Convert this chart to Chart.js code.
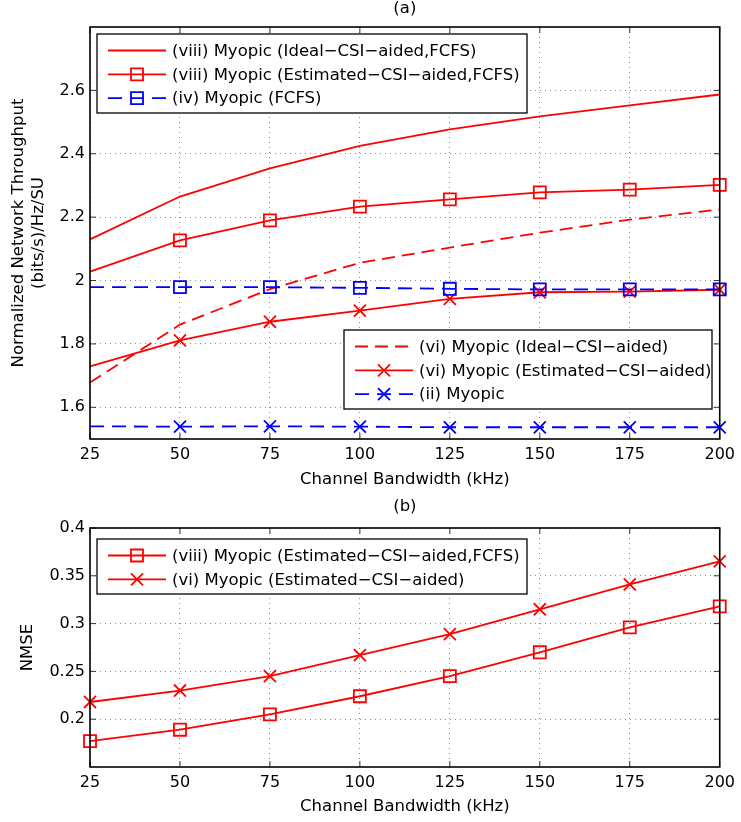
<!DOCTYPE html>
<html>
<head>
<meta charset="utf-8">
<script src="https://cdn.jsdelivr.net/npm/chart.js@4.4.1/dist/chart.umd.min.js"></script>
<style>
body { margin: 0; background: #fff; }
canvas { display: block; }
</style>
</head>
<body>
<canvas id="chartA" width="741" height="495"></canvas>
<canvas id="chartB" width="741" height="327"></canvas>
<script>
// shared x axis
const bandwidth = [25, 50, 75, 100, 125, 150, 175, 200];
const xTicks = [25, 50, 75, 100, 125, 150, 175, 200];
const xTitle = "Channel Bandwidth (kHz)";

// (a) normalized network throughput
const idealFcfs = [2.130, 2.265, 2.354, 2.425, 2.477, 2.518, 2.553, 2.587];
const estFcfs   = [2.028, 2.127, 2.190, 2.233, 2.256, 2.278, 2.287, 2.302];
const fcfs      = [1.979, 1.979, 1.979, 1.977, 1.974, 1.972, 1.972, 1.972];
const idealVi   = [1.678, 1.861, 1.973, 2.056, 2.104, 2.151, 2.192, 2.224];
const estVi     = [1.729, 1.811, 1.870, 1.905, 1.942, 1.963, 1.965, 1.971];
const myopic    = [1.540, 1.539, 1.540, 1.539, 1.537, 1.537, 1.537, 1.537];
const yTicksA = [1.6, 1.8, 2, 2.2, 2.4, 2.6];
const yTitleA = ["Normalized Network Throughput", "(bits/s)/Hz/SU"];

// (b) NMSE
const nmseViii = [0.177, 0.189, 0.205, 0.224, 0.245, 0.270, 0.296, 0.318];
const nmseVi   = [0.218, 0.230, 0.245, 0.267, 0.289, 0.315, 0.341, 0.365];
const yTicksB = [0.2, 0.25, 0.3, 0.35, 0.4];

const labels = {
  idealFcfs: "(viii) Myopic (Ideal\u2212CSI\u2212aided,FCFS)",
  estFcfs: "(viii) Myopic (Estimated\u2212CSI\u2212aided,FCFS)",
  fcfs: "(iv) Myopic (FCFS)",
  idealVi: "(vi) Myopic (Ideal\u2212CSI\u2212aided)",
  estVi: "(vi) Myopic (Estimated\u2212CSI\u2212aided)",
  myopic: "(ii) Myopic"
};

const RED = "#ff0000", BLUE = "#0000ff";
const DASH = [13, 7];
const FONT = "'DejaVu Sans', sans-serif";
Chart.defaults.font.family = FONT;
Chart.defaults.color = "#000";

function series(label, values, color, dash, marker, skipFirst) {
  return {
    label: label,
    data: values.map((v, i) => ({x: bandwidth[i], y: v})),
    borderColor: color,
    backgroundColor: color,
    borderWidth: 1.8,
    borderDash: dash,
    marker: marker,
    pointStyle: marker === "x" ? "crossRot" : "rect",
    pointRadius: c => !marker ? 0 : (skipFirst && c.dataIndex === 0 ? 0 : (marker === "x" ? 8.5 : 8.5)),
    pointHoverRadius: 0,
    pointBorderWidth: 1.8,
    pointBorderColor: color,
    pointBackgroundColor: "rgba(0,0,0,0)",
    tension: 0,
    clip: false
  };
}

function drawMarker(ctx, kind, x, y) {
  ctx.beginPath();
  if (kind === "rect") {
    ctx.rect(x - 6, y - 6, 12, 12);
  } else {
    ctx.moveTo(x - 6, y - 6); ctx.lineTo(x + 6, y + 6);
    ctx.moveTo(x + 6, y - 6); ctx.lineTo(x - 6, y + 6);
  }
  ctx.stroke();
}

function drawLegend(chart, lg) {
  const {ctx, chartArea: a} = chart;
  const x0 = a.left + lg.x, y0 = a.top + lg.y;
  ctx.save();
  ctx.fillStyle = "#fff";
  ctx.fillRect(x0, y0, lg.w, lg.h);
  ctx.strokeStyle = "#000";
  ctx.lineWidth = 1.3;
  ctx.setLineDash([]);
  ctx.strokeRect(x0, y0, lg.w, lg.h);
  lg.items.forEach((idx, i) => {
    const ds = chart.data.datasets[idx];
    const ry = y0 + 16.5 + 23.8 * i;
    ctx.strokeStyle = ds.borderColor;
    ctx.lineWidth = 1.8;
    ctx.setLineDash(ds.borderDash || []);
    ctx.beginPath();
    ctx.moveTo(x0 + 11, ry);
    ctx.lineTo(x0 + 69, ry);
    ctx.stroke();
    ctx.setLineDash([]);
    if (ds.marker) drawMarker(ctx, ds.marker, x0 + 40, ry);
    ctx.fillStyle = "#000";
    ctx.font = "16.5px " + FONT;
    ctx.textAlign = "left";
    ctx.textBaseline = "middle";
    ctx.fillText(ds.label, x0 + 75, ry + 1);
  });
  ctx.restore();
}

const framePlugin = {
  id: "frame",
  afterDatasetsDraw(chart, args, opts) {
    const {ctx, chartArea: a, scales} = chart;
    ctx.save();
    ctx.strokeStyle = "#333";
    ctx.lineWidth = 1;
    ctx.beginPath();
    scales.x.ticks.forEach(t => {
      const px = scales.x.getPixelForValue(t.value);
      ctx.moveTo(px, a.bottom); ctx.lineTo(px, a.bottom - 6);
      ctx.moveTo(px, a.top); ctx.lineTo(px, a.top + 6);
    });
    scales.y.ticks.forEach(t => {
      const py = scales.y.getPixelForValue(t.value);
      ctx.moveTo(a.left, py); ctx.lineTo(a.left + 6, py);
      ctx.moveTo(a.right, py); ctx.lineTo(a.right - 6, py);
    });
    ctx.stroke();
    ctx.strokeStyle = "#000";
    ctx.lineWidth = 1.6;
    ctx.strokeRect(a.left, a.top, a.right - a.left, a.bottom - a.top);
    ctx.fillStyle = "#000";
    ctx.font = "16.5px " + FONT;
    ctx.textAlign = "center";
    ctx.textBaseline = "middle";
    ctx.fillText(opts.title, (a.left + a.right) / 2, opts.titleY);
    opts.legends.forEach(lg => drawLegend(chart, lg));
    ctx.restore();
  }
};

function axes(yMin, yMax, yTicks, yTitle, xHeight, yTitlePad) {
  return {
    x: {
      type: "linear", min: 25, max: 200,
      afterBuildTicks: s => { s.ticks = xTicks.map(v => ({value: v})); },
      afterFit: s => { s.height = xHeight; },
      grid: {color: "#8c8c8c", lineWidth: 1, drawTicks: false},
      border: {display: false, dash: [1, 4]},
      ticks: {color: "#000", padding: 6, font: {size: 16}, maxRotation: 0, autoSkip: false, callback: v => String(v)},
      title: {display: true, text: xTitle, color: "#000", font: {size: 16.5}, padding: {top: 0, bottom: 5}}
    },
    y: {
      type: "linear", min: yMin, max: yMax,
      afterBuildTicks: s => { s.ticks = yTicks.map(v => ({value: v})); },
      afterFit: s => { s.width = 90; },
      grid: {color: "#8c8c8c", lineWidth: 1, drawTicks: false},
      border: {display: false, dash: [1, 4]},
      ticks: {color: "#000", padding: 5, font: {size: 16}, autoSkip: false, callback: v => String(v)},
      title: {display: true, text: yTitle, color: "#000", font: {size: 16.5}, padding: {top: yTitlePad, bottom: 0}}
    }
  };
}

new Chart(document.getElementById("chartA"), {
  type: "line",
  data: {
    datasets: [
      series(labels.idealFcfs, idealFcfs, RED, [], null, true),
      series(labels.estFcfs, estFcfs, RED, [], "rect", true),
      series(labels.fcfs, fcfs, BLUE, [14, 8], "rect", true),
      series(labels.idealVi, idealVi, RED, DASH, null, true),
      series(labels.estVi, estVi, RED, [], "x", true),
      series(labels.myopic, myopic, BLUE, [14, 8], "x", true)
    ]
  },
  options: {
    responsive: false,
    animation: false,
    layout: {padding: {top: 27, right: 17, left: 0, bottom: 0}},
    scales: axes(1.5, 2.8, yTicksA, yTitleA, 56, 9),
    plugins: {
      legend: {display: false},
      tooltip: {enabled: false},
      frame: {
        title: "(a)", titleY: 9,
        legends: [
          {x: 7, y: 7, w: 430, h: 79, items: [0, 1, 2]},
          {x: 254, y: 303, w: 368, h: 79, items: [3, 4, 5]}
        ]
      }
    }
  },
  plugins: [framePlugin]
});

new Chart(document.getElementById("chartB"), {
  type: "line",
  data: {
    datasets: [
      series(labels.estFcfs, nmseViii, RED, [], "rect", false),
      series(labels.estVi, nmseVi, RED, [], "x", false)
    ]
  },
  options: {
    responsive: false,
    animation: false,
    layout: {padding: {top: 33, right: 17, left: 0, bottom: 0}},
    scales: axes(0.15, 0.4, yTicksB, "NMSE", 55, 18),
    plugins: {
      legend: {display: false},
      tooltip: {enabled: false},
      frame: {
        title: "(b)", titleY: 12,
        legends: [
          {x: 7, y: 11, w: 430, h: 55, items: [0, 1]}
        ]
      }
    }
  },
  plugins: [framePlugin]
});
</script>
</body>
</html>
